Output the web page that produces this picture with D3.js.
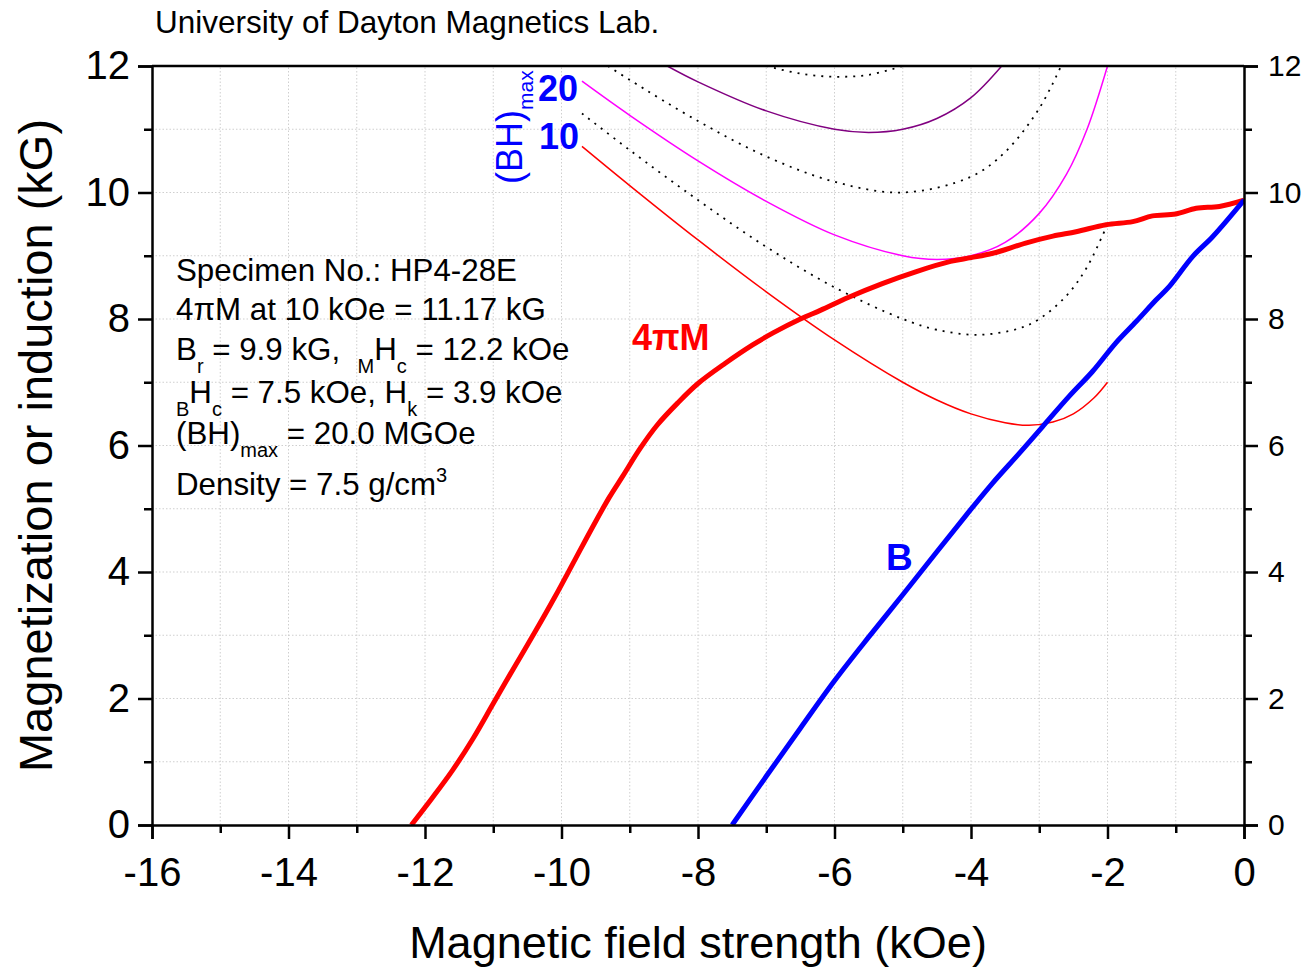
<!DOCTYPE html>
<html lang="en">
  <head>
    <meta charset="utf-8">
    <title>Demagnetization curve HP4-28E</title>
    <script src="https://d3js.org/d3.v7.min.js"></script>
    <style>
      body { margin: 0; background: #fff; }
      text { font-family: "Liberation Sans", Arial, sans-serif; white-space: pre; }
    </style>
  </head>
  <body>
    <script type="text/javascript">

      var w = 1308;
      var h = 970;

      // 4piM (intrinsic) curve, H in kOe, 4piM in kG
      var hM = [-12.2, -11.9, -11.6, -11.3, -11.0, -10.7, -10.4, -10.1, -9.8, -9.55, -9.3, -9.1, -8.85, -8.6, -8.3, -8.0, -7.6, -7.2, -6.9, -6.5, -6.2, -5.8, -5.3, -4.8, -4.3, -4.0, -3.68, -3.2, -2.8, -2.46, -2.02, -1.63, -1.34, -1.0, -0.7, -0.36, 0];
      var m4pi = [0, 0.42, 0.86, 1.36, 1.92, 2.48, 3.03, 3.6, 4.2, 4.7, 5.18, 5.52, 5.95, 6.32, 6.67, 6.98, 7.3, 7.59, 7.78, 8.0, 8.14, 8.34, 8.56, 8.75, 8.91, 8.97, 9.04, 9.2, 9.31, 9.38, 9.49, 9.54, 9.63, 9.66, 9.75, 9.78, 9.88];

      // B (normal) curve
      var hB = [-7.5, -7.0, -6.5, -6.0, -5.5, -5.0, -4.5, -4.07, -3.68, -3.29, -2.95, -2.56, -2.22, -1.88, -1.58, -1.29, -1.09, -0.75, -0.46, 0];
      var bB = [0, 0.77, 1.53, 2.28, 2.97, 3.64, 4.32, 4.9, 5.41, 5.88, 6.3, 6.78, 7.17, 7.62, 7.96, 8.3, 8.52, 8.99, 9.3, 9.88];

      // constant (BH) curves
      var bh10H = [-9.7, -9, -8, -7, -6, -5, -4.5, -4, -3.5, -3.15, -2.8, -2.5, -2.2, -2];
      var bh10M = [10.73, 10.11, 9.25, 8.43, 7.67, 7.0, 6.72, 6.5, 6.36, 6.32, 6.37, 6.5, 6.75, 7.0];
      var bh15H = [-9.7, -9, -8, -7, -6, -5, -4.5, -3.9, -3.3, -3, -2.6, -2.3, -2];
      var bh15M = [11.25, 10.67, 9.88, 9.14, 8.5, 8.0, 7.83, 7.75, 7.85, 8.0, 8.37, 8.82, 9.5];
      var bh20H = [-9.7, -9, -8, -7, -6, -5, -4.5, -4, -3.5, -3, -2.6, -2.3, -2];
      var bh20M = [11.76, 11.22, 10.5, 9.86, 9.33, 9.0, 8.94, 9.0, 9.21, 9.67, 10.29, 11.0, 12.0];
      var bh25H = [-9.32, -9, -8, -7, -6, -5, -4, -3.5, -3, -2.68];
      var bh25M = [12.0, 11.78, 11.13, 10.57, 10.17, 10.0, 10.25, 10.64, 11.33, 12.0];
      var bh30H = [-8.45, -8, -7, -6, -5.5, -5, -4.5, -4, -3.55];
      var bh30M = [12.0, 11.75, 11.29, 11.0, 10.95, 11.0, 11.17, 11.5, 12.0];
      var bh35H = [-7, -6.5, -6, -5.5, -5];
      var bh35M = [12.0, 11.88, 11.83, 11.86, 12.0];

      var xMajor = [-16, -14, -12, -10, -8, -6, -4, -2, 0];
      var yMajor = [0, 2, 4, 6, 8, 10, 12];

      var svg = d3.select("body")
          .append("svg")
          .attr("width", w)
          .attr("height", h);

      svg.append("rect").attr("width", w).attr("height", h).attr("fill", "#fff");

      var xscale = d3.scaleLinear().domain([-16, 0]).range([152, 1244]);
      var yscale = d3.scaleLinear().domain([0, 12]).range([825, 66]);

      // grid, every 1 unit
      var grid = svg.append("g");
      grid.selectAll("line.gx")
        .data(d3.range(-15, 0))
        .enter().append("line")
        .attr("x1", d => xscale(d)).attr("x2", d => xscale(d))
        .attr("y1", yscale(0)).attr("y2", yscale(12))
        .attr("stroke", "#cfcfcf").attr("stroke-width", 1)
        .attr("stroke-dasharray", "1.5 2");
      grid.selectAll("line.gy")
        .data(d3.range(1, 12))
        .enter().append("line")
        .attr("y1", d => yscale(d)).attr("y2", d => yscale(d))
        .attr("x1", xscale(-16)).attr("x2", xscale(0))
        .attr("stroke", "#cfcfcf").attr("stroke-width", 1)
        .attr("stroke-dasharray", "1.5 2");

      svg.append("clipPath").attr("id", "plot")
        .append("rect")
        .attr("x", xscale(-16)).attr("y", yscale(12))
        .attr("width", xscale(0) - xscale(-16))
        .attr("height", yscale(0) - yscale(12));

      var line = d3.line()
          .x(d => xscale(d[0]))
          .y(d => yscale(d[1]))
          .curve(d3.curveCatmullRom.alpha(0.5));

      function pts(xs, ys) { return xs.map((v, i) => [v, ys[i]]); }

      var curves = svg.append("g").attr("clip-path", "url(#plot)");

      var bhCurves = [
        {x: bh10H, y: bh10M, color: "#ff0000", dash: null},
        {x: bh15H, y: bh15M, color: "#000", dash: "2 6"},
        {x: bh20H, y: bh20M, color: "#ff00ff", dash: null},
        {x: bh25H, y: bh25M, color: "#000", dash: "2 6"},
        {x: bh30H, y: bh30M, color: "#800080", dash: null},
        {x: bh35H, y: bh35M, color: "#000", dash: "2 6"}
      ];

      bhCurves.forEach(function(c) {
        curves.append("path")
          .datum(pts(c.x, c.y))
          .attr("d", line)
          .attr("fill", "none")
          .attr("stroke", c.color)
          .attr("stroke-width", c.dash ? 1.8 : 1.5)
          .attr("stroke-dasharray", c.dash);
      });

      curves.append("path")
        .datum(pts(hM, m4pi))
        .attr("d", line)
        .attr("fill", "none")
        .attr("stroke", "#ff0000")
        .attr("stroke-width", 5)
        .attr("stroke-linejoin", "round");

      curves.append("path")
        .datum(pts(hB, bB))
        .attr("d", line)
        .attr("fill", "none")
        .attr("stroke", "#0000ff")
        .attr("stroke-width", 5)
        .attr("stroke-linejoin", "round");

      // axes
      function styleAxis(g, size) {
        g.select(".domain").attr("stroke-width", 2.5);
        g.selectAll(".tick line").attr("stroke-width", 2.5);
        g.selectAll(".tick text")
          .attr("font-family", "Liberation Sans, Arial, sans-serif")
          .attr("font-size", size)
          .attr("fill", "#000");
      }

      var xAxis = svg.append("g")
        .attr("transform", "translate(0," + yscale(0) + ")")
        .call(d3.axisBottom(xscale).tickValues(xMajor).tickSize(14).tickPadding(19).tickFormat(d => String(d)));
      styleAxis(xAxis, 40);

      var xMinor = svg.append("g")
        .attr("transform", "translate(0," + yscale(0) + ")")
        .call(d3.axisBottom(xscale).tickValues(d3.range(-15, 0, 2)).tickSize(8).tickFormat(""));
      xMinor.select(".domain").remove();
      xMinor.selectAll(".tick line").attr("stroke-width", 2.5);

      var yAxis = svg.append("g")
        .attr("transform", "translate(" + xscale(-16) + ",0)")
        .call(d3.axisLeft(yscale).tickValues(yMajor).tickSize(14).tickPadding(8).tickFormat(d => String(d)));
      styleAxis(yAxis, 40);

      var yMinor = svg.append("g")
        .attr("transform", "translate(" + xscale(-16) + ",0)")
        .call(d3.axisLeft(yscale).tickValues(d3.range(1, 12, 2)).tickSize(8).tickFormat(""));
      yMinor.select(".domain").remove();
      yMinor.selectAll(".tick line").attr("stroke-width", 2.5);

      var yRight = svg.append("g")
        .attr("transform", "translate(" + xscale(0) + ",0)")
        .call(d3.axisRight(yscale).tickValues(yMajor).tickSize(14).tickPadding(10).tickFormat(d => String(d)));
      styleAxis(yRight, 30);

      var yRightMinor = svg.append("g")
        .attr("transform", "translate(" + xscale(0) + ",0)")
        .call(d3.axisRight(yscale).tickValues(d3.range(1, 12, 2)).tickSize(8).tickFormat(""));
      yRightMinor.select(".domain").remove();
      yRightMinor.selectAll(".tick line").attr("stroke-width", 2.5);

      svg.append("line")
        .attr("x1", xscale(-16)).attr("x2", xscale(0))
        .attr("y1", yscale(12)).attr("y2", yscale(12))
        .attr("stroke", "#000").attr("stroke-width", 2.5);

      // titles
      svg.append("text")
        .attr("x", 155).attr("y", 33)
        .attr("font-size", 31.5)
        .text("University of Dayton Magnetics Lab.");

      svg.append("text")
        .attr("x", (xscale(-16) + xscale(0)) / 2).attr("y", 958)
        .attr("text-anchor", "middle")
        .attr("font-size", 45)
        .text("Magnetic field strength (kOe)");

      svg.append("text")
        .attr("transform", "translate(52," + (yscale(0) + yscale(12)) / 2 + ") rotate(-90)")
        .attr("text-anchor", "middle")
        .attr("font-size", 47)
        .text("Magnetization or induction (kG)");

      // text with sub/superscripts
      function richText(parent, x, y, parts, size, fill) {
        var t = parent.append("text")
          .attr("x", x).attr("y", y)
          .attr("font-size", size)
          .attr("fill", fill || "#000");
        var shift = 0;
        parts.forEach(function(p) {
          var target = p.sub ? 13 : (p.sup ? -13 : 0);
          t.append("tspan")
            .attr("dy", target - shift)
            .attr("font-size", (p.sub || p.sup) ? 20 : size)
            .text(p.t);
          shift = target;
        });
        return t;
      }

      var info = svg.append("g");
      richText(info, 176, 281, [{t: "Specimen No.: HP4-28E"}], 31.3);
      richText(info, 176, 320, [{t: "4πM at 10 kOe = 11.17 kG"}], 31.3);
      richText(info, 176, 360, [{t: "B"}, {t: "r", sub: true}, {t: " = 9.9 kG,  "}, {t: "M", sub: true}, {t: "H"}, {t: "c", sub: true}, {t: " = 12.2 kOe"}], 31.3);
      richText(info, 176, 403, [{t: "B", sub: true}, {t: "H"}, {t: "c", sub: true}, {t: " = 7.5 kOe, H"}, {t: "k", sub: true}, {t: " = 3.9 kOe"}], 31.3);
      richText(info, 176, 444, [{t: "(BH)"}, {t: "max", sub: true}, {t: " = 20.0 MGOe"}], 31.3);
      richText(info, 176, 495, [{t: "Density = 7.5 g/cm"}, {t: "3", sup: true}], 31.3);

      // curve labels
      svg.append("text")
        .attr("x", 632).attr("y", 350)
        .attr("font-size", 36).attr("font-weight", "bold")
        .attr("fill", "#ff0000")
        .text("4πM");

      svg.append("text")
        .attr("x", 886).attr("y", 570)
        .attr("font-size", 37).attr("font-weight", "bold")
        .attr("fill", "#0000ff")
        .text("B");

      svg.append("text")
        .attr("x", 538).attr("y", 101)
        .attr("font-size", 36).attr("font-weight", "bold")
        .attr("fill", "#0000ff")
        .text("20");

      svg.append("text")
        .attr("x", 539).attr("y", 149)
        .attr("font-size", 36).attr("font-weight", "bold")
        .attr("fill", "#0000ff")
        .text("10");

      var bhLab = svg.append("g").attr("transform", "translate(522,184) rotate(-90)");
      var bt = bhLab.append("text").attr("fill", "#0000ff").attr("font-size", 36);
      bt.append("tspan").text("(BH)");
      bt.append("tspan").attr("dy", 11).attr("font-size", 21).text("max");

    </script>
  </body>
</html>
